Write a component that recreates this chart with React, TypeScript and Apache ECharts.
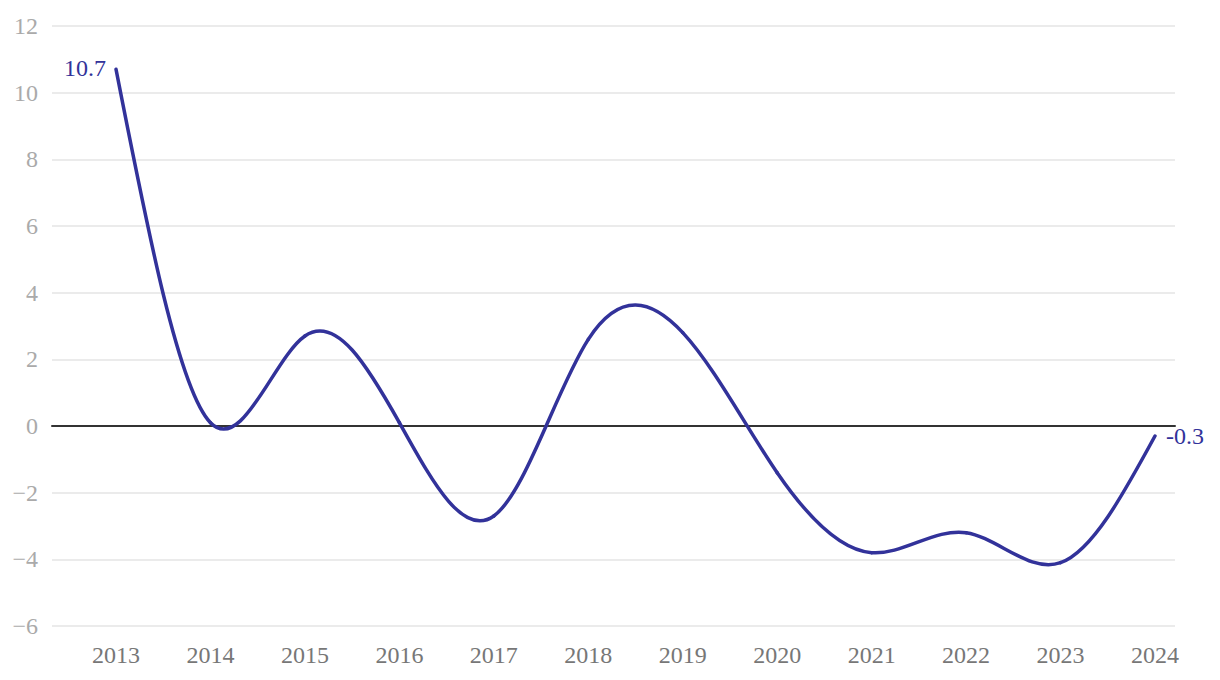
import React, { useEffect, useRef } from "react";
import * as echarts from "echarts";

const YEARS = [2013, 2014, 2015, 2016, 2017, 2018, 2019, 2020, 2021, 2022, 2023, 2024];
const VALUES = [10.7, 0.1, 2.7, 0.1, -2.7, 2.6, 2.8, -1.4, -3.8, -3.2, -4.1, -0.3];
const Y_TICKS = [-6, -4, -2, 0, 2, 4, 6, 8, 10, 12];

const LINE_COLOR = "#32329a";
const FONT = "'Liberation Serif', serif";

// natural cubic spline control points (as in d3.curveNatural)
function controlPoints(x: number[]): [number[], number[]] {
  const n = x.length - 1;
  const a = new Array(n);
  const b = new Array(n);
  const r = new Array(n);
  a[0] = 0; b[0] = 2; r[0] = x[0] + 2 * x[1];
  for (let i = 1; i < n - 1; ++i) { a[i] = 1; b[i] = 4; r[i] = 4 * x[i] + 2 * x[i + 1]; }
  a[n - 1] = 2; b[n - 1] = 7; r[n - 1] = 8 * x[n - 1] + x[n];
  for (let i = 1; i < n; ++i) { const m = a[i] / b[i - 1]; b[i] -= m; r[i] -= m * r[i - 1]; }
  a[n - 1] = r[n - 1] / b[n - 1];
  for (let i = n - 2; i >= 0; --i) a[i] = (r[i] - a[i + 1]) / b[i];
  b[n - 1] = (x[n] + a[n - 1]) / 2;
  for (let i = 0; i < n - 1; ++i) b[i] = 2 * x[i + 1] - a[i + 1];
  return [a, b];
}

export default function App() {
  const ref = useRef<HTMLDivElement>(null);
  useEffect(() => {
    if (!ref.current) return;
    const chart = echarts.init(ref.current, null, { renderer: "svg" });
    const data = YEARS.map((y, i) => [y, VALUES[i]]);
    const renderItem = (params: any, api: any) => {
      const idx = params.dataIndex;
      const pts = YEARS.map((y, i) => api.coord([y, VALUES[i]]));
      const xs = pts.map((p: number[]) => p[0]);
      const ys = pts.map((p: number[]) => p[1]);
      const [ax, bx] = controlPoints(xs);
      const [ay, by] = controlPoints(ys);
      const children: any[] = [];
      if (idx < YEARS.length - 1) {
        children.push({
          type: "bezierCurve",
          shape: {
            x1: xs[idx], y1: ys[idx],
            cpx1: ax[idx], cpy1: ay[idx],
            cpx2: bx[idx], cpy2: by[idx],
            x2: xs[idx + 1], y2: ys[idx + 1],
          },
          style: { stroke: LINE_COLOR, lineWidth: 3.5, fill: "none", lineCap: "round" },
        });
      }
      if (idx === 0) {
        children.push({
          type: "text",
          x: xs[0] - 10,
          y: ys[0] - 1,
          style: {
            text: String(VALUES[0]),
            fill: LINE_COLOR,
            fontSize: 24,
            fontFamily: FONT,
            align: "right",
            verticalAlign: "middle",
          },
        });
      }
      if (idx === YEARS.length - 1) {
        children.push({
          type: "text",
          x: xs[idx] + 11,
          y: ys[idx],
          style: {
            text: String(VALUES[idx]),
            fill: LINE_COLOR,
            fontSize: 24,
            fontFamily: FONT,
            align: "left",
            verticalAlign: "middle",
          },
        });
      }
      return { type: "group", children };
    };
    chart.setOption({
      animation: false,
      backgroundColor: "#ffffff",
      grid: { left: 52, right: 45, top: 26, bottom: 54, containLabel: false },
      xAxis: {
        type: "value",
        min: 2012.322,
        max: 2024.212,
        axisLine: { show: true, onZero: true, lineStyle: { color: "#333333", width: 2 } },
        axisTick: { show: false },
        splitLine: { show: false },
        axisLabel: {
          customValues: YEARS,
          formatter: (v: number) => String(v),
          color: "#777777",
          fontSize: 24,
          fontFamily: FONT,
          margin: 17,
        },
      },
      yAxis: {
        type: "value",
        min: -6,
        max: 12,
        interval: 2,
        axisLine: { show: false },
        axisTick: { show: false },
        splitLine: { show: true, lineStyle: { color: "#e4e4e4", width: 1.5 } },
        axisLabel: {
          customValues: Y_TICKS,
          formatter: (v: number) => (v < 0 ? "\u2212" + Math.abs(v) : String(v)),
          color: "#aaaaaa",
          fontSize: 24,
          fontFamily: FONT,
          margin: 14,
        },
      },
      series: [
        {
          type: "custom",
          renderItem,
          data,
          encode: { x: 0, y: 1 },
          clip: false,
        },
      ],
    });
    return () => chart.dispose();
  }, []);
  return (
    <div
      ref={ref}
      style={{ position: "absolute", left: 0, top: 0, width: 1220, height: 680 }}
    />
  );
}
